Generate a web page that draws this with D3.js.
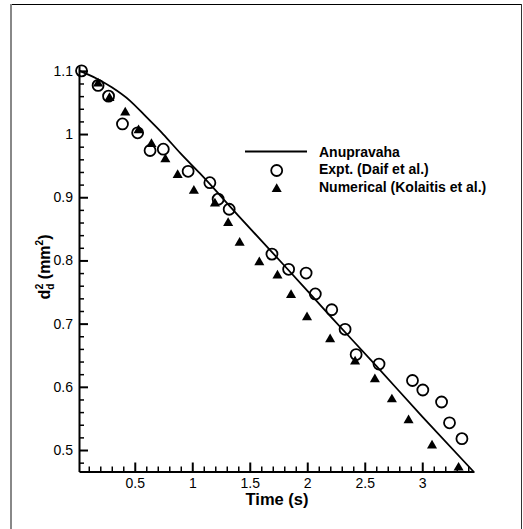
<!DOCTYPE html>
<html>
<head>
<meta charset="utf-8">
<script src="https://cdn.jsdelivr.net/npm/d3@7"></script>
<style>
    body { margin: 0; background: #fff; }
    svg { display: block; }
    text { font-family: "Liberation Sans", Arial, Helvetica, sans-serif; fill: #000; }
</style>
</head>
<body>
<svg id="chart" width="523" height="529"></svg>
<script>
// Anupravaha (solid line)
const lineTime = [0.02, 0.167, 0.3, 0.457, 0.6, 0.746, 0.9, 1.065, 1.4, 1.8, 2.2, 2.6, 3.0, 3.445];
const lineD2 = [1.100, 1.088, 1.074, 1.053, 1.027, 1.000, 0.969, 0.938, 0.871, 0.792, 0.712, 0.633, 0.553, 0.466];

// Expt. (Daif et al.) - open circles
const exptTime = [0.037, 0.181, 0.272, 0.393, 0.525, 0.633, 0.748, 0.964, 1.153, 1.225, 1.321, 1.693,
    1.838, 1.99, 2.07, 2.213, 2.329, 2.425, 2.624, 2.915, 3.005, 3.168, 3.237, 3.345];
const exptD2 = [1.100, 1.077, 1.060, 1.016, 1.002, 0.974, 0.976, 0.941, 0.923, 0.897, 0.881, 0.810,
    0.786, 0.780, 0.747, 0.722, 0.691, 0.651, 0.636, 0.610, 0.595, 0.576, 0.543, 0.518];

// Numerical (Kolaitis et al.) - filled triangles
const numTime = [0.181, 0.28, 0.417, 0.533, 0.645, 0.766, 0.873, 1.014, 1.197, 1.312, 1.412, 1.583,
    1.741, 1.859, 1.998, 2.199, 2.416, 2.588, 2.736, 2.881, 3.085, 3.316];
const numD2 = [1.080, 1.057, 1.034, 1.006, 0.984, 0.960, 0.935, 0.910, 0.890, 0.859, 0.828, 0.797,
    0.776, 0.745, 0.710, 0.675, 0.640, 0.612, 0.580, 0.547, 0.507, 0.472];

const xTicks = [0.5, 1, 1.5, 2, 2.5, 3];
const yTicks = [0.5, 0.6, 0.7, 0.8, 0.9, 1, 1.1];
const legendLabels = ["Anupravaha", "Expt. (Daif et al.)", "Numerical (Kolaitis et al.)"];

let svg = d3.select("#chart");

// outer frame
svg.append("line").attr("x1", 11).attr("x2", 522).attr("y1", 4.5).attr("y2", 4.5)
    .attr("stroke", "#000").attr("stroke-width", 1);
svg.append("line").attr("x1", 11).attr("x2", 11).attr("y1", 4).attr("y2", 529)
    .attr("stroke", "#888").attr("stroke-width", 2);
svg.append("line").attr("x1", 521.5).attr("x2", 521.5).attr("y1", 4).attr("y2", 529)
    .attr("stroke", "#333").attr("stroke-width", 1);

let x = d3.scaleLinear().domain([0.015, 3.45]).range([79, 474]);
let y = d3.scaleLinear().domain([0.466, 1.108]).range([471.5, 65.8]);

let minorX = d3.range(1, 35).map(function (i) { return i / 10; })
    .filter(function (v) { return Math.abs(v * 2 - Math.round(v * 2)) > 1e-6; });
let minorY = d3.range(24, 56).map(function (i) { return i / 50; })
    .filter(function (v) { return v > 0.466 && Math.abs(v * 10 - Math.round(v * 10)) > 1e-6; });

// minor ticks
svg.append("g").attr("transform", "translate(0,471.5)")
    .call(d3.axisBottom(x).tickValues(minorX).tickSizeInner(-5).tickSizeOuter(0).tickFormat(""))
    .call(function (g) { g.select(".domain").remove(); })
    .selectAll("line").attr("stroke-width", 1.5);
svg.append("g").attr("transform", "translate(79,0)")
    .call(d3.axisLeft(y).tickValues(minorY).tickSizeInner(-5).tickSizeOuter(0).tickFormat(""))
    .call(function (g) { g.select(".domain").remove(); })
    .selectAll("line").attr("stroke-width", 1.5);

// major axes
let xAxis = svg.append("g").attr("transform", "translate(0,471.5)")
    .call(d3.axisBottom(x).tickValues(xTicks).tickSizeInner(-9).tickSizeOuter(0).tickPadding(6.5)
        .tickFormat(d3.format("~g")));
let yAxis = svg.append("g").attr("transform", "translate(79,0)")
    .call(d3.axisLeft(y).tickValues(yTicks).tickSizeInner(-9).tickSizeOuter(0).tickPadding(6)
        .tickFormat(d3.format("~g")));

[xAxis, yAxis].forEach(function (g) {
    g.select(".domain").attr("stroke-width", 2);
    g.selectAll(".tick line").attr("stroke-width", 2);
    g.selectAll(".tick text").attr("font-size", "14px").attr("fill", "#111")
        .style("font-family", "'Liberation Sans', Arial, sans-serif");
});

// Anupravaha line
let lineData = lineTime.map(function (t, i) { return [t, lineD2[i]]; });
svg.append("path")
    .datum(lineData)
    .attr("fill", "none")
    .attr("stroke", "#000")
    .attr("stroke-width", 1.8)
    .attr("d", d3.line()
        .x(function (d) { return x(d[0]); })
        .y(function (d) { return y(d[1]); })
        .curve(d3.curveMonotoneX));

let triangle = d3.symbol().type(d3.symbolTriangle).size(44);

// triangles
svg.append("g").selectAll("path")
    .data(numTime.map(function (t, i) { return [t, numD2[i]]; }))
    .enter().append("path")
    .attr("d", triangle)
    .attr("transform", function (d) { return "translate(" + x(d[0]) + "," + y(d[1]) + ")"; })
    .attr("fill", "#000");

// circles
svg.append("g").selectAll("circle")
    .data(exptTime.map(function (t, i) { return [t, exptD2[i]]; }))
    .enter().append("circle")
    .attr("cx", function (d) { return x(d[0]); })
    .attr("cy", function (d) { return y(d[1]); })
    .attr("r", 5.5)
    .attr("fill", "none")
    .attr("stroke", "#000")
    .attr("stroke-width", 1.8);

// axis titles
svg.append("text")
    .attr("x", 277).attr("y", 505)
    .attr("text-anchor", "middle")
    .attr("font-size", "16.5px").attr("font-weight", "bold")
    .text("Time (s)");

let yTitle = svg.append("text")
    .attr("transform", "translate(50,267) rotate(-90)")
    .attr("text-anchor", "middle")
    .attr("font-size", "16px").attr("font-weight", "bold");
yTitle.append("tspan").text("d");
yTitle.append("tspan").attr("font-size", "10px").attr("dy", 4).text("d");
yTitle.append("tspan").attr("font-size", "10px").attr("dx", -5.6).attr("dy", -11).text("2");
yTitle.append("tspan").attr("dy", 7).text(" (mm");
yTitle.append("tspan").attr("font-size", "10px").attr("dy", -7).text("2");
yTitle.append("tspan").attr("dy", 7).text(")");

// legend
let legend = svg.append("g");
legend.append("line").attr("x1", 245).attr("x2", 307).attr("y1", 151.5).attr("y2", 151.5)
    .attr("stroke", "#000").attr("stroke-width", 1.8);
legend.append("circle").attr("cx", 276.7).attr("cy", 170.5).attr("r", 5.5)
    .attr("fill", "none").attr("stroke", "#000").attr("stroke-width", 1.8);
legend.append("path").attr("d", triangle).attr("transform", "translate(276.7,189)").attr("fill", "#000");
legend.selectAll("text")
    .data(legendLabels)
    .enter().append("text")
    .attr("x", 319)
    .attr("y", function (d, i) { return 156.5 + i * 17.7; })
    .attr("font-size", "14px").attr("font-weight", "bold")
    .text(function (d) { return d; });
</script>
</body>
</html>
